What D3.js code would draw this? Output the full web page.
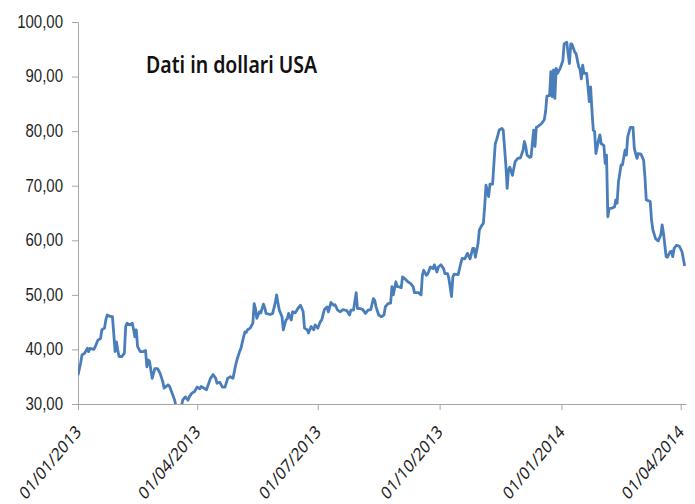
<!DOCTYPE html>
<html>
<head>
<meta charset="utf-8">
<script src="https://cdn.jsdelivr.net/npm/d3@7"></script>
<style>
  body { margin: 0; background: #fff; }
</style>
</head>
<body>
<div id="chart"></div>
<script>
// days since 01/01/2013
const days = [
  0,2,3,5,7,8,9,12,13,15,
  17,18,20,21,22,23,25,26,27,28,
  29,30,31,33,35,36,37,39,41,42,
  43,44,45,47,49,51,52,53,54,56,
  58,60,62,64,65,68,69,71,73,74,
  76,78,79,81,83,84,86,88,90,92,
  93,97,100,102,104,105,107,109,111,113,
  115,117,119,120,122,123,125,126,127,128,
  130,132,133,134,135,137,138,140,141,142,
  145,147,149,150,151,152,154,155,157,158,
  159,161,162,164,166,168,170,171,173,174,
  176,178,179,181,183,184,186,188,189,191,
  193,194,196,198,200,203,205,206,208,210,
  211,213,215,217,219,221,223,224,225,227,
  229,231,232,234,236,237,238,240,241,242,
  244,245,247,249,251,253,254,257,259,260,
  261,263,264,266,268,269,271,272,274,276,
  277,279,280,282,283,284,287,289,290,292,
  294,296,298,299,300,302,303,305,306,307,
  308,310,311,313,314,315,316,318,320,321,
  323,324,325,326,328,330,332,334,336,337,
  338,339,341,342,344,345,346,347,350,352,
  353,354,356,357,358,359,360,361,362,364,
  366,367,369,370,371,372,373,375,376,378,
  379,380,381,382,384,385,386,387,388,389,
  390,391,393,394,395,397,398,399,400,401,
  403,405,406,407,408,410,411,413,414,415,
  417,419,420,421,422,423,425,427,428,429,
  432,433,434,436,438,440,441,442,444,445,
  447,448,449,450,452,454,456,458
];

// price in USD
const values = [
  35.3,37.5,39.0,39.3,40.2,39.6,40.2,40.0,40.5,41.7,
  42.0,43.6,43.9,45.4,46.3,46.2,46.0,46.0,42.9,39.6,
  41.4,39.9,38.7,38.7,39.3,44.2,44.8,44.5,44.8,43.6,
  42.3,43.6,40.5,39.6,39.6,39.8,36.8,38.1,37.8,34.7,
  36.5,36.5,35.6,34.1,32.9,33.5,33.3,32.0,30.7,29.5,
  29.3,29.4,30.7,31.3,30.7,31.3,32.0,32.3,33.1,32.8,
  33.2,32.6,34.7,35.4,34.7,33.8,34.0,33.1,33.1,34.7,
  35.0,34.7,37.1,38.1,39.6,40.2,42.3,43.2,43.1,43.6,
  43.9,44.8,48.4,47.5,45.7,46.9,46.7,48.3,47.6,46.6,
  46.4,46.6,48.7,50.0,48.4,47.2,46.0,43.6,45.4,45.6,
  46.6,45.4,46.9,46.7,47.5,48.1,46.9,43.9,43.6,43.0,
  44.2,43.6,44.5,43.9,45.1,45.4,47.3,47.8,46.9,48.6,
  48.1,48.2,47.2,46.9,47.3,47.1,46.3,47.2,47.2,50.4,
  47.5,47.5,47.3,46.6,47.2,47.3,49.3,49.0,47.8,46.3,
  46.0,46.3,47.8,48.4,48.5,51.5,50.0,52.4,51.5,51.5,
  51.3,53.3,52.9,52.4,52.1,51.5,50.4,50.4,50.0,53.6,
  54.5,53.6,53.8,55.1,54.8,55.5,54.2,55.1,55.5,54.8,
  53.9,53.9,53.0,49.7,53.3,53.8,53.7,55.8,56.7,56.6,
  57.6,56.6,58.5,58.5,56.9,59.4,61.9,62.8,63.1,66.1,
  70.1,68.0,70.3,70.3,74.1,77.7,78.4,80.2,80.5,80.2,
  73.8,69.5,72.9,73.4,71.9,74.4,75.0,75.1,76.5,78.1,
  77.2,75.6,75.2,75.3,80.2,77.2,80.7,80.8,81.4,82.1,
  83.6,86.4,86.5,90.9,86.3,91.2,86.0,91.5,90.6,91.5,
  92.9,96.0,96.3,94.2,92.4,96.0,95.9,94.5,94.2,91.8,
  91.3,89.6,92.1,90.6,90.6,88.1,85.4,88.1,83.8,80.2,
  79.9,75.9,78.4,79.3,77.7,77.4,74.1,75.6,64.3,65.8,
  65.9,66.1,67.4,66.8,70.7,73.8,73.8,76.5,75.6,79.0,
  80.7,80.7,76.8,75.9,75.0,75.9,75.8,74.7,71.6,67.4,
  67.1,63.7,61.9,60.3,59.9,61.0,62.8,61.3,57.0,56.9,
  57.9,58.0,57.0,58.5,59.1,58.9,57.9,55.3
];

const yTicks = [30, 40, 50, 60, 70, 80, 90, 100];
const xTicks = ["2013-01-01", "2013-04-01", "2013-07-01", "2013-10-01", "2014-01-01", "2014-04-01"];
const title = "Dati in dollari USA";

const w = 695, h = 504;
const m = { top: 22, right: 9, bottom: 100, left: 78 };
const stretch = 1.2; // the source picture is a bit taller than wide

const start = new Date(2013, 0, 1);
const parse = d3.timeParse("%Y-%m-%d");
const data = days.map((d, i) => ({ date: d3.timeDay.offset(start, d), value: values[i] }));

const it = d3.formatLocale({ decimal: ",", thousands: ".", grouping: [3], currency: ["", "€"] });
const fmtY = it.format(".2f");
const fmtX = d3.timeFormat("%d/%m/%Y");

const svg = d3.select("#chart")
  .append("svg")
  .attr("width", w)
  .attr("height", h)
  .style("font-family", "'Noto Sans', sans-serif");

const x = d3.scaleTime()
  .domain([start, d3.timeDay.offset(start, 459)])
  .range([m.left, w - m.right]);

const y = d3.scaleLinear()
  .domain([30, 100])
  .range([h - m.bottom, m.top]);

// y axis
const yAxis = svg.append("g")
  .attr("transform", `translate(${m.left},0)`)
  .call(d3.axisLeft(y).tickValues(yTicks).tickFormat(fmtY).tickSizeInner(6).tickSizeOuter(0).tickPadding(9));
yAxis.select(".domain").attr("stroke", "#a6a6a6");
yAxis.selectAll(".tick line").attr("stroke", "#a6a6a6");
yAxis.selectAll(".tick text")
  .attr("fill", "#1f1f1f")
  .attr("font-size", 15)
  .attr("transform", `scale(1,${stretch})`)
  .attr("dy", "0.3em");

// x axis
const xAxis = svg.append("g")
  .attr("transform", `translate(0,${h - m.bottom})`)
  .call(d3.axisBottom(x).tickValues(xTicks.map(parse)).tickFormat("").tickSizeInner(6).tickSizeOuter(0));
xAxis.select(".domain").attr("stroke", "#a6a6a6");
xAxis.selectAll(".tick line").attr("stroke", "#a6a6a6");

svg.append("g")
  .selectAll("text")
  .data(xTicks.map(parse))
  .join("text")
  .attr("transform", (d) => `translate(${x(d) + 4},${h - m.bottom + 29}) scale(1,${stretch}) rotate(-45)`)
  .attr("text-anchor", "end")
  .attr("font-size", 15)
  .attr("fill", "#1f1f1f")
  .text((d) => fmtX(d));

// clip so the dip under 30 stays on the axis
svg.append("clipPath")
  .attr("id", "plotclip")
  .append("rect")
  .attr("x", m.left)
  .attr("y", m.top - 5)
  .attr("width", w - m.left - m.right)
  .attr("height", h - m.bottom - m.top + 5);

const line = d3.line()
  .x((d) => x(d.date))
  .y((d) => y(d.value));

svg.append("path")
  .datum(data)
  .attr("clip-path", "url(#plotclip)")
  .attr("fill", "none")
  .attr("stroke", "#4a7ebb")
  .attr("stroke-width", 2.8)
  .attr("stroke-linejoin", "round")
  .attr("d", line);

// title
svg.append("text")
  .attr("transform", `translate(146,73) scale(1,${stretch})`)
  .attr("font-size", 19.5)
  .attr("font-weight", 600)
  .attr("fill", "#111")
  .text(title);
</script>
</body>
</html>
